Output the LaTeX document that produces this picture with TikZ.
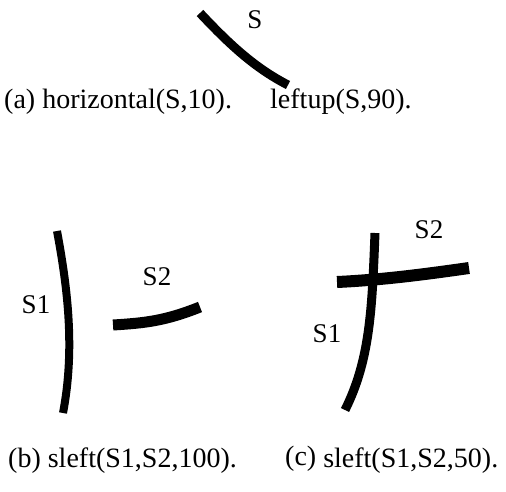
\documentclass[tikz,border=0pt]{standalone}
\usepackage{fontspec}
\setmainfont{Liberation Serif}
\begin{document}
\begin{tikzpicture}[
x=1pt, y=-1pt, % toa do theo pixel cua hinh goc
stroke/.style={line width=#1, black},
lbl/.style={anchor=base, inner sep=0pt, font=\fontsize{27}{30}\selectfont},
captext/.style={anchor=base west, inner sep=0pt, font=\fontsize{28}{30}\selectfont}
]
\useasboundingbox (0,0) rectangle (506,491);

% --- Hinh (a): mot net S ---
\draw[stroke=9pt] (200,13) .. controls (230,45) and (255,68) .. (288,85);
\node[lbl] (labS) at (255,28) {S};

\node[captext] (capa) at (4,108) {(a) horizontal(S,10).};
\node[captext] (capa2) at (270,108) {leftup(S,90).};

% --- Hinh (b): S1 va S2 tach roi ---
\draw[stroke=8pt] (57,231) .. controls (68,290) and (75,350) .. (63,413);
\draw[stroke=11pt] (113,325) .. controls (145,323) and (165,321) .. (200,307);
\node[lbl] (labSoneb) at (36,313) {S1};
\node[lbl] (labStwob) at (157,285) {S2};

\node[captext] (capb) at (8,467) {(b) sleft(S1,S2,100).};

% --- Hinh (c): S1 cat S2 ---
\draw[stroke=9pt] (375,233) .. controls (372,310) and (370,360) .. (345,410);
\draw[stroke=12pt] (337,282) .. controls (380,280) and (420,275) .. (469,268);
\node[lbl] (labSonec) at (327,342) {S1};
\node[lbl] (labStwoc) at (429,238) {S2};

\node[captext] (capc) at (285,467) {\raisebox{2pt}{(c)} sleft(S1,S2,50).};

\end{tikzpicture}
\end{document}
